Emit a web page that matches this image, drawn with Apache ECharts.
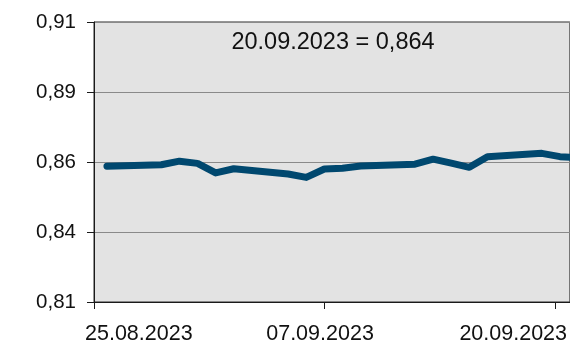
<!DOCTYPE html>
<html>
<head>
<meta charset="utf-8">
<script src="https://cdn.jsdelivr.net/npm/echarts@6/dist/echarts.min.js"></script>
<style>
html,body{margin:0;padding:0;background:#fff;}
#chart{width:570px;height:348px;}
</style>
</head>
<body>
<div id="chart"></div>
<script>
// ---- data ----
const dates = ['2023-08-25','2023-08-28','2023-08-29','2023-08-30','2023-08-31','2023-09-01',
               '2023-09-04','2023-09-05','2023-09-06','2023-09-07','2023-09-08',
               '2023-09-11','2023-09-12','2023-09-13','2023-09-14','2023-09-15',
               '2023-09-18','2023-09-19','2023-09-20'];
const values = [0.8610,0.8615,0.8628,0.8620,0.8586,0.8601,
                0.8582,0.8570,0.8600,0.8603,0.8611,
                0.8617,0.8635,0.8621,0.8606,0.8644,
                0.8656,0.8644,0.8640];
const xTickLabels = ['25.08.2023','07.09.2023','20.09.2023'];
const yTickLabels = ['0,81','0,84','0,86','0,89','0,91'];

// ---- layout (x measured in days since the first date) ----
const DAY = 86400000;
const t0 = Date.parse(dates[0]);
const dayOf = d => (Date.parse(d) - t0) / DAY;
const xMin = -0.714, xMax = 25.55;
const tickVals = [-0.714, 11.98, 24.73];
const labelVals = [1.76, 11.76, 22.42];
const yMin = 0.8125, yMax = 0.9125, yStep = 0.025;

const lastDate = dates[dates.length - 1].split('-').reverse().join('.');
const titleText = lastDate + ' = ' + values[values.length - 1].toFixed(3).replace('.', ',');

const seriesData = dates.map((d, i) => [dayOf(d), values[i]]);
const FONT = '"Liberation Sans", Arial, sans-serif';

const chart = echarts.init(document.getElementById('chart'));
chart.setOption({
  animation: false,
  backgroundColor: '#ffffff',
  grid: {
    left: 94, right: -2, top: 22, bottom: 46,
    show: true, backgroundColor: '#e3e3e3',
    borderColor: '#2b2b2b', borderWidth: 1
  },
  graphic: [{
    type: 'text',
    x: 333, y: 43,
    style: {
      text: titleText,
      fill: '#111',
      font: '23.5px ' + FONT,
      textAlign: 'center',
      textVerticalAlign: 'middle'
    }
  }],
  xAxis: {
    type: 'value',
    min: xMin, max: xMax,
    axisLine: { show: true, onZero: false, lineStyle: { color: '#1a1a1a', width: 1 } },
    axisTick: { show: true, length: 7, customValues: tickVals, lineStyle: { color: '#1a1a1a' } },
    splitLine: { show: false },
    axisLabel: {
      customValues: labelVals,
      showMinLabel: true, showMaxLabel: true,
      margin: 21,
      color: '#111',
      fontSize: 21.5,
      fontFamily: FONT,
      formatter: function (v) {
        const i = labelVals.findIndex(t => Math.abs(t - v) < 0.5);
        return i >= 0 ? xTickLabels[i] : '';
      }
    }
  },
  yAxis: {
    type: 'value',
    min: yMin, max: yMax, interval: yStep,
    axisLine: { show: true, onZero: false, lineStyle: { color: '#1a1a1a', width: 1 } },
    axisTick: { show: true, length: 7, lineStyle: { color: '#1a1a1a' } },
    splitLine: { show: true, lineStyle: { color: '#8a8a8a', width: 1 } },
    axisLabel: {
      margin: 18,
      padding: [4, 0, 0, 0],
      color: '#111',
      fontSize: 20.5,
      fontFamily: FONT,
      formatter: function (v) {
        const i = Math.round((v - yMin) / yStep);
        return yTickLabels[i] !== undefined ? yTickLabels[i] : '';
      }
    }
  },
  series: [{
    type: 'line',
    data: seriesData,
    symbol: 'none',
    clip: true,
    lineStyle: { color: '#00486f', width: 7, cap: 'round', join: 'round' }
  }]
});
</script>
</body>
</html>
